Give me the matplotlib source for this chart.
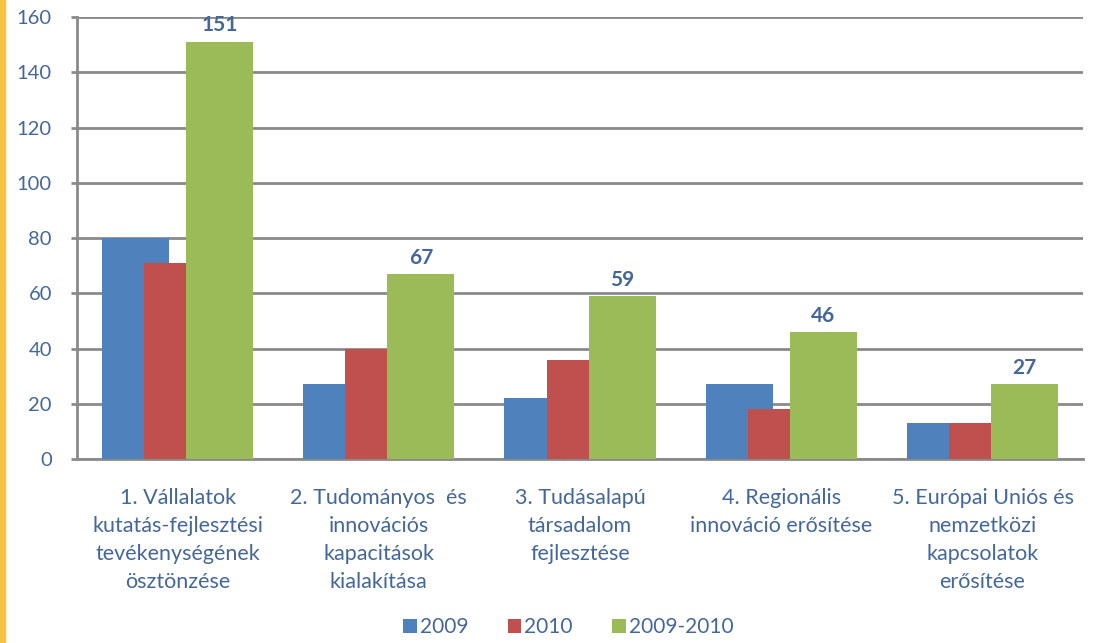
import numpy as np
import matplotlib.pyplot as plt
from matplotlib.patches import Rectangle

categories = [
    "1. Vállalatok\nkutatás-fejlesztési\ntevékenységének\nösztönzése",
    "2. Tudományos  és\ninnovációs\nkapacitások\nkialakítása",
    "3. Tudásalapú\ntársadalom\nfejlesztése",
    "4. Regionális\ninnováció erősítése",
    "5. Európai Uniós és\nnemzetközi\nkapcsolatok\nerősítése",
]
series_names = ["2009", "2010", "2009-2010"]
v2009 = [80, 27, 22, 27, 13]
v2010 = [71, 40, 36, 18, 13]
v_total = [151, 67, 59, 46, 27]

colors = ["#4F81BD", "#C0504D", "#9BBB59"]
text_col = "#44679A"
grid_col = "#8A8A8A"

plt.rcParams['font.family'] = ['Lato', 'DejaVu Sans']

fig = plt.figure(figsize=(10.93, 6.43), dpi=100)
ax = fig.add_axes([0.0704, 0.286, 0.9206, 0.6876])

x = np.arange(len(categories))
width = 0.333
offset = 0.209
for i, (vals, col, name) in enumerate(zip([v2009, v2010, v_total], colors, series_names)):
    bars = ax.bar(x + (i - 1) * offset, vals, width, color=col, label=name, zorder=3 + i)
    if i == 2:
        # value labels only on the summed series
        for b, v in zip(bars, vals):
            ax.text(b.get_x() + b.get_width() / 2, v + 2.3, str(v), ha='center', va='bottom',
                    fontsize=15, fontweight='bold', color=text_col)

ax.set_xlim(-0.5, 4.5)
ax.set_ylim(0, 160)
ax.set_yticks(range(0, 161, 20))
ax.yaxis.grid(True, color=grid_col, linewidth=2, zorder=0)
ax.set_axisbelow(True)
for s in ['top', 'right']:
    ax.spines[s].set_visible(False)
for s in ['left', 'bottom']:
    ax.spines[s].set_color(grid_col)
    ax.spines[s].set_linewidth(2)
ax.tick_params(axis='y', colors=grid_col, length=4, width=2, labelcolor=text_col, labelsize=14.5, pad=14)
ax.tick_params(axis='x', length=0, labelcolor=text_col, labelsize=15.5, pad=21)
ax.set_xticks(x)
ax.set_xticklabels(categories, linespacing=1.5)

fig.legend(loc='lower center', bbox_to_anchor=(0.52, -0.02), ncol=3, frameon=False,
           fontsize=15, labelcolor=text_col, handlelength=0.65, handleheight=0.65,
           handletextpad=0.15, columnspacing=1.9)

fig.patches.append(Rectangle((0, 0), 5 / 1093, 1, transform=fig.transFigure,
                             color="#F5C244", zorder=0))

fig.savefig("out.png", dpi=100)
